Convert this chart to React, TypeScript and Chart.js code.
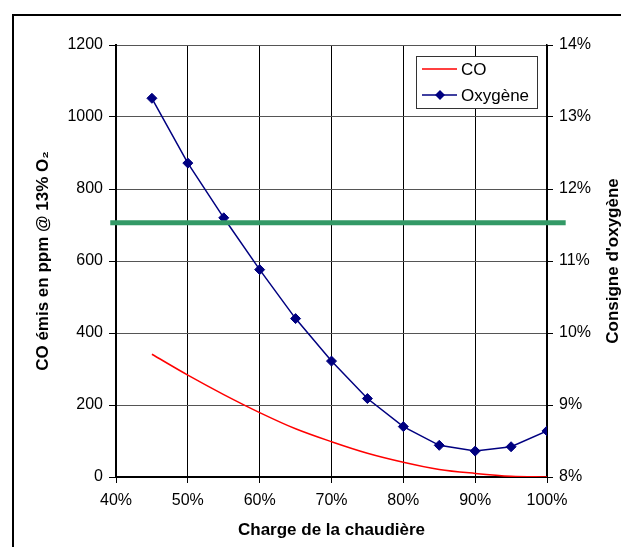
import React, { useEffect, useRef } from "react";
import { Chart, registerables } from "chart.js";

Chart.register(...registerables);

// ---- data ----
const loadPct = [45, 50, 55, 60, 65, 70, 75, 80, 85, 90, 95, 100];
const coPpm = [341, 283, 229, 179, 134, 98, 66, 41, 21, 10, 2, 0];
const oxygenPct = [13.26, 12.36, 11.6, 10.88, 10.2, 9.61, 9.09, 8.7, 8.44, 8.36, 8.42, 8.64];
const limitLineX = [39.2, 102.6];
const limitLineY = [706, 706];

const xTickValues = [40, 50, 60, 70, 80, 90, 100];
const coTickValues = [0, 200, 400, 600, 800, 1000, 1200];
const oxyTickValues = [8, 9, 10, 11, 12, 13, 14];

const seriesLabels = ["CO", "Oxygène"];
const xTitle = "Charge de la chaudière";
const yTitle = "CO émis en ppm @ 13% O₂";
const y1Title = "Consigne d'oxygène";

const FONT = '"Liberation Sans", Arial, Helvetica, sans-serif';
const RED = "#ff0000";
const NAVY = "#000080";
const GREEN = "#339966";

const decorPlugin = {
  id: "decor",
  beforeDraw(chart: any) {
    const ctx = chart.ctx;
    ctx.save();
    ctx.fillStyle = "#ffffff";
    ctx.fillRect(0, 0, chart.width, chart.height);
    ctx.fillStyle = "#000000";
    ctx.fillRect(12, 14, chart.width - 12, 2);
    ctx.fillRect(12, 14, 2, chart.height - 14);
    ctx.restore();
  },
  afterDraw(chart: any) {
    const { ctx, chartArea } = chart;
    // right axis title (reads bottom to top)
    ctx.save();
    ctx.font = `bold 17px ${FONT}`;
    ctx.fillStyle = "#000";
    ctx.textAlign = "center";
    ctx.textBaseline = "middle";
    ctx.translate(613, (chartArea.top + chartArea.bottom) / 2);
    ctx.rotate(-Math.PI / 2);
    ctx.fillText(y1Title, 0, 0);
    ctx.restore();

    // legend box
    const bx = chartArea.right - 131;
    const by = chartArea.top + 11;
    const bw = 121;
    const bh = 52;
    ctx.save();
    ctx.fillStyle = "#fff";
    ctx.fillRect(bx, by, bw, bh);
    ctx.strokeStyle = "#333";
    ctx.lineWidth = 1;
    ctx.strokeRect(bx + 0.5, by + 0.5, bw, bh);
    const rows = [
      { label: seriesLabels[0], color: RED, marker: false, y: by + 13 },
      { label: seriesLabels[1], color: NAVY, marker: true, y: by + 39 },
    ];
    ctx.font = `17px ${FONT}`;
    ctx.textAlign = "left";
    ctx.textBaseline = "middle";
    for (const r of rows) {
      ctx.strokeStyle = r.color;
      ctx.lineWidth = 1.5;
      ctx.beginPath();
      ctx.moveTo(bx + 6, r.y);
      ctx.lineTo(bx + 41, r.y);
      ctx.stroke();
      if (r.marker) {
        const cx = bx + 24;
        ctx.fillStyle = r.color;
        ctx.beginPath();
        ctx.moveTo(cx, r.y - 5);
        ctx.lineTo(cx + 5, r.y);
        ctx.lineTo(cx, r.y + 5);
        ctx.lineTo(cx - 5, r.y);
        ctx.closePath();
        ctx.fill();
      }
      ctx.fillStyle = "#000";
      ctx.fillText(r.label, bx + 45, r.y + 1);
    }
    ctx.restore();
  },
};

export default function App() {
  const canvasRef = useRef<HTMLCanvasElement | null>(null);

  useEffect(() => {
    const canvas = canvasRef.current;
    if (!canvas) return;
    Chart.defaults.font.family = FONT;
    Chart.defaults.color = "#000";

    const chart = new Chart(canvas, {
      type: "line",
      data: {
        datasets: [
          {
            label: "limit",
            data: limitLineX.map((x, i) => ({ x, y: limitLineY[i] })),
            borderColor: GREEN,
            borderWidth: 5,
            pointRadius: 0,
            yAxisID: "y",
            clip: false as any,
            order: 0,
          },
          {
            label: seriesLabels[1],
            data: loadPct.map((x, i) => ({ x, y: oxygenPct[i] })),
            borderColor: NAVY,
            backgroundColor: NAVY,
            borderWidth: 1.5,
            pointStyle: "rectRot",
            pointRadius: 5,
            pointBackgroundColor: NAVY,
            pointBorderColor: NAVY,
            pointBorderWidth: 1,
            yAxisID: "y1",
            tension: 0,
            order: 1,
          },
          {
            label: seriesLabels[0],
            data: loadPct.map((x, i) => ({ x, y: coPpm[i] })),
            borderColor: RED,
            borderWidth: 1.5,
            pointRadius: 0,
            yAxisID: "y",
            cubicInterpolationMode: "monotone",
            order: 2,
          },
        ],
      },
      options: {
        animation: false,
        responsive: false,
        maintainAspectRatio: false,
        devicePixelRatio: 1,
        layout: { padding: { top: 45, left: 0, right: 0, bottom: 0 } },
        plugins: {
          legend: { display: false },
          tooltip: { enabled: false },
        },
        scales: {
          x: {
            type: "linear",
            min: 40,
            max: 100,
            afterBuildTicks: (s: any) => {
              s.ticks = xTickValues.map((v) => ({ value: v }));
            },
            afterFit: (s: any) => {
              s.height = 70;
            },
            ticks: {
              callback: (v: any) => String(v) + "%",
              font: { size: 16 },
              color: "#000",
              padding: 8,
              maxRotation: 0,
              autoSkip: false,
            },
            grid: { color: "#000", lineWidth: 1, tickLength: 6, tickColor: "#000", tickWidth: 1 },
            border: { color: "#000", width: 2 },
            title: {
              display: true,
              text: xTitle,
              color: "#000",
              font: { size: 17, weight: "bold" },
              padding: { top: 0, bottom: 6 },
            },
          },
          y: {
            type: "linear",
            position: "left",
            min: 0,
            max: 1200,
            afterBuildTicks: (s: any) => {
              s.ticks = coTickValues.map((v) => ({ value: v }));
            },
            afterFit: (s: any) => {
              s.width = 116;
            },
            ticks: {
              callback: (v: any) => String(v),
              font: { size: 16 },
              color: "#000",
              padding: 6,
            },
            grid: { color: "#555", lineWidth: 1, tickLength: 7, tickColor: "#000", tickWidth: 1 },
            border: { color: "#000", width: 2 },
            title: {
              display: true,
              text: yTitle,
              color: "#000",
              font: { size: 17, weight: "bold" },
              padding: { top: 33, bottom: 0 },
            },
          },
          y1: {
            type: "linear",
            position: "right",
            min: 8,
            max: 14,
            afterBuildTicks: (s: any) => {
              s.ticks = oxyTickValues.map((v) => ({ value: v }));
            },
            afterFit: (s: any) => {
              s.width = 74;
            },
            ticks: {
              callback: (v: any) => String(v) + "%",
              font: { size: 16 },
              color: "#000",
              padding: 6,
            },
            grid: { drawOnChartArea: false, color: "#000", tickLength: 6, tickColor: "#000", tickWidth: 1 },
            border: { color: "#000", width: 1.5 },
          },
        },
      },
      plugins: [decorPlugin],
    } as any);

    return () => {
      chart.destroy();
    };
  }, []);

  return (
    <div style={{ position: "fixed", left: 0, top: 0, width: 621, height: 547, background: "#fff" }}>
      <canvas ref={canvasRef} width={621} height={547} style={{ display: "block", width: 621, height: 547 }} />
    </div>
  );
}
